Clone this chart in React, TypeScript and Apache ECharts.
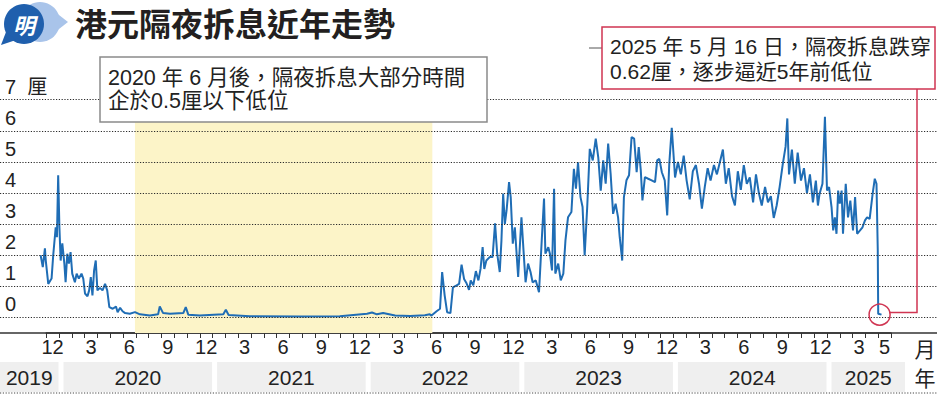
import React, { useEffect, useRef } from "react";
import * as echarts from "echarts";

// ---- data ----
const dates: string[] = [
  "2019-11-18","2019-11-23","2019-11-28","2019-11-30","2019-12-06","2019-12-14","2019-12-18","2019-12-24","2019-12-27","2019-12-30",
  "2020-01-02","2020-01-05","2020-01-09","2020-01-14","2020-01-17","2020-01-21","2020-01-25","2020-01-29","2020-02-02","2020-02-08",
  "2020-02-12","2020-02-17","2020-02-23","2020-02-27","2020-03-02","2020-03-08","2020-03-12","2020-03-16","2020-03-20","2020-03-24",
  "2020-03-28","2020-04-01","2020-04-07","2020-04-13","2020-04-19","2020-04-24","2020-04-29","2020-05-07","2020-05-15","2020-05-19",
  "2020-05-25","2020-05-31","2020-06-06","2020-06-17","2020-06-29","2020-07-11","2020-08-04","2020-08-24","2020-08-28","2020-09-05",
  "2020-09-21","2020-10-23","2020-10-29","2020-11-04","2020-12-01","2021-01-27","2021-02-02","2021-02-08","2021-03-29","2021-07-26",
  "2021-10-30","2022-01-03","2022-01-15","2022-01-27","2022-02-10","2022-03-09","2022-04-14","2022-05-19","2022-05-31","2022-06-04",
  "2022-06-16","2022-06-24","2022-06-29","2022-07-05","2022-07-11","2022-07-19","2022-07-25","2022-08-03","2022-08-09","2022-08-15",
  "2022-08-21","2022-08-27","2022-09-02","2022-09-06","2022-09-12","2022-09-18","2022-09-24","2022-09-29","2022-10-04","2022-10-08",
  "2022-10-13","2022-10-21","2022-10-28","2022-11-03","2022-11-08","2022-11-14","2022-11-18","2022-11-22","2022-11-26","2022-11-30",
  "2022-12-06","2022-12-10","2022-12-15","2022-12-20","2022-12-28","2023-01-05","2023-01-11","2023-01-15","2023-01-21","2023-01-27",
  "2023-02-01","2023-02-08","2023-02-15","2023-02-21","2023-02-26","2023-03-01","2023-03-08","2023-03-12","2023-03-17","2023-03-22",
  "2023-03-25","2023-04-01","2023-04-07","2023-04-13","2023-04-18","2023-04-24","2023-05-02","2023-05-08","2023-05-13","2023-05-18",
  "2023-05-24","2023-05-29","2023-06-03","2023-06-09","2023-06-15","2023-06-22","2023-06-29","2023-07-05","2023-07-11","2023-07-17",
  "2023-07-23","2023-07-29","2023-08-04","2023-08-10","2023-08-16","2023-08-22","2023-08-26","2023-09-01","2023-09-05","2023-09-11",
  "2023-09-17","2023-09-23","2023-09-29","2023-10-05","2023-10-10","2023-10-15","2023-10-19","2023-10-25","2023-11-02","2023-11-10",
  "2023-11-18","2023-11-23","2023-11-28","2023-12-04","2023-12-11","2023-12-17","2023-12-22","2023-12-28","2024-01-05","2024-01-12",
  "2024-01-19","2024-01-26","2024-02-02","2024-02-09","2024-02-16","2024-02-23","2024-03-01","2024-03-08","2024-03-15","2024-03-22",
  "2024-03-29","2024-04-06","2024-04-13","2024-04-20","2024-04-27","2024-05-04","2024-05-11","2024-05-19","2024-05-26","2024-06-02",
  "2024-06-09","2024-06-16","2024-06-23","2024-06-30","2024-07-08","2024-07-15","2024-07-22","2024-07-29","2024-08-06","2024-08-13",
  "2024-08-20","2024-08-27","2024-09-03","2024-09-10","2024-09-17","2024-09-24","2024-09-28","2024-10-02","2024-10-09","2024-10-16",
  "2024-10-23","2024-10-31","2024-11-07","2024-11-14","2024-11-21","2024-11-28","2024-12-05","2024-12-10","2024-12-14","2024-12-21",
  "2024-12-27","2025-01-01","2025-01-06","2025-01-12","2025-01-16","2025-01-20","2025-01-24","2025-01-28","2025-02-01","2025-02-05",
  "2025-02-08","2025-02-14","2025-02-19","2025-02-24","2025-03-02","2025-03-07","2025-03-12","2025-03-19","2025-03-25","2025-03-31",
  "2025-04-05","2025-04-11","2025-04-18","2025-04-23","2025-04-27","2025-04-30","2025-05-01","2025-05-09",
];
const rates: number[] = [
  2.0,1.62,2.22,1.83,1.08,1.25,2.0,2.9,2.58,4.57,
  2.9,1.83,2.38,1.73,1.13,2.05,1.73,2.1,1.41,1.13,
  1.41,1.25,1.41,1.25,0.77,0.68,0.87,1.3,0.71,1.51,
  1.83,0.87,0.95,0.87,1.08,0.87,0.33,0.28,0.35,0.17,
  0.31,0.2,0.14,0.12,0.17,0.1,0.06,0.1,0.35,0.14,
  0.12,0.14,0.33,0.09,0.06,0.1,0.25,0.08,0.04,0.03,
  0.04,0.12,0.16,0.1,0.14,0.06,0.05,0.07,0.1,0.06,
  0.2,0.28,1.46,0.71,0.17,0.14,0.97,1.03,1.08,1.7,
  1.24,1.1,0.89,1.19,1.03,1.49,1.19,1.56,2.26,1.56,
  1.83,1.94,1.94,3.03,2.05,1.46,2.48,3.98,3.01,3.44,
  4.35,3.87,2.37,2.9,1.3,3.22,1.94,1.13,1.73,1.46,
  1.13,1.19,0.81,2.48,3.82,2.05,2.26,2.05,1.51,4.14,
  1.41,1.73,1.19,1.41,2.48,3.22,3.39,4.78,4.14,4.99,
  3.87,3.55,1.99,3.55,5.42,5.05,5.75,5.15,4.08,5.05,
  4.3,5.59,4.62,3.33,3.66,3.22,2.58,1.83,3.87,4.41,
  4.57,5.8,5.75,4.67,5.48,4.73,3.76,4.51,4.46,4.41,
  4.35,5.05,5.1,4.67,4.41,3.28,4.94,6.1,4.5,5.0,
  4.6,5.2,4.4,3.8,4.7,4.9,4.3,3.5,4.2,4.8,
  4.4,4.9,4.6,5.0,5.4,4.3,4.8,3.9,3.6,4.7,
  4.1,4.9,4.3,4.5,3.7,4.6,4.0,3.6,4.2,3.7,
  3.9,3.2,3.6,4.2,4.9,5.5,6.4,4.6,5.4,4.3,
  5.3,4.4,4.8,4.0,4.6,3.7,4.4,3.6,3.98,4.3,
  6.45,4.08,4.19,3.55,2.8,3.22,2.69,4.08,3.66,4.08,
  2.69,4.3,3.22,3.76,2.8,3.87,2.69,2.8,2.9,3.12,
  3.22,3.17,3.98,4.46,4.3,2.15,0.12,0.09,
];

const yTicks: number[] = [0, 1, 2, 3, 4, 5, 6, 7];
const yUnit = "厘";
const monthLabelMonths: number[] = [3, 6, 9, 12];
const yearLabels: string[] = ["2019", "2020", "2021", "2022", "2023", "2024", "2025"];
const yearStartMonths: number[] = [-12, 0, 12, 24, 36, 48, 60];
const yearEndMonths: number[] = [0, 12, 24, 36, 48, 60, 66.13];
const shadedFrom = "2020-06-29";
const shadedTo = "2022-06-06";

const title = "港元隔夜拆息近年走勢";
const note1 = ["2020 年 6 月後，隔夜拆息大部分時間", "企於0.5厘以下低位"];
const note2 = ["2025 年 5 月 16 日，隔夜拆息跌穿", "0.62厘，逐步逼近5年前低位"];

// ---- helpers ----
function toM(s: string): number {
  const [y, mo, d] = s.split("-").map(Number);
  const dim = new Date(y, mo, 0).getDate();
  return (y - 2020) * 12 + (mo - 1) + (d - 1) / dim;
}

const FONT = '"Liberation Sans", "Noto Sans CJK TC", sans-serif';
const CJK = '"Noto Sans CJK TC", "Liberation Sans", sans-serif';
const RED = "#d03552";
const BLUE = "#1f6db5";
const PX_PER_MONTH = 12.8;
const JAN2020_X = 59;
const W = 937;
const H = 396;
const GRID_TOP = 60;
const GRID_BOTTOM = 63;
const Y_MIN = -0.5;
const Y_MAX = -0.5 + (H - GRID_TOP - GRID_BOTTOM) / 31.1;

export default function App() {
  const ref = useRef<HTMLDivElement>(null);
  useEffect(() => {
    if (!ref.current) return;
    const chart = echarts.init(ref.current, undefined, { renderer: "svg" });
    const lineData = dates.map((d, i) => [toM(d), rates[i]]);
    const last = lineData[lineData.length - 1];
    const xMinFull = -JAN2020_X / PX_PER_MONTH;
    const xMaxFull = (W - JAN2020_X) / PX_PER_MONTH;
    const tickMin = -1;
    const tickMax = 65;

    const option: any = {
      animation: false,
      backgroundColor: "#ffffff",
      grid: [
        { left: 0, right: 0, top: GRID_TOP, bottom: GRID_BOTTOM },
        {
          left: JAN2020_X + tickMin * PX_PER_MONTH,
          width: (tickMax - tickMin) * PX_PER_MONTH,
          top: GRID_TOP,
          bottom: GRID_BOTTOM,
        },
      ],
      xAxis: [
        {
          type: "value",
          gridIndex: 0,
          min: xMinFull,
          max: xMaxFull,
          axisLine: { show: true, onZero: false, lineStyle: { color: "#333", width: 1.5 } },
          axisTick: { show: false },
          axisLabel: { show: false },
          splitLine: { show: false },
        },
        {
          type: "value",
          gridIndex: 1,
          min: tickMin,
          max: tickMax,
          interval: 1,
          axisLine: { show: true, onZero: false, lineStyle: { color: "#333", width: 1.5 } },
          axisTick: { show: true, length: 5, lineStyle: { color: "#333", width: 1 } },
          axisLabel: {
            show: true,
            margin: 4,
            fontSize: 20,
            color: "#222",
            fontFamily: FONT,
            padding: [0, 0, 0, PX_PER_MONTH],
            formatter: (v: number) => {
              const mo = (((Math.round(v) % 12) + 12) % 12) + 1;
              if (v >= tickMax) return "";
              if (v === 64) return "5";
              if (v > 62) return "";
              return monthLabelMonths.includes(mo) ? String(mo) : "";
            },
          },
          splitLine: { show: false },
        },
      ],
      yAxis: [
        { type: "value", gridIndex: 0, min: Y_MIN, max: Y_MAX, show: false, splitLine: { show: false } },
        { type: "value", gridIndex: 1, min: Y_MIN, max: Y_MAX, show: false, splitLine: { show: false } },
      ],
      series: [
        {
          type: "line",
          xAxisIndex: 0,
          yAxisIndex: 0,
          data: [],
          z: 1,
          silent: true,
          markArea: {
            silent: true,
            itemStyle: { color: "#fcf4c8" },
            data: [[{ xAxis: toM(shadedFrom), yAxis: Y_MIN }, { xAxis: toM(shadedTo), yAxis: Y_MAX }]],
          },
        },
        {
          type: "line",
          xAxisIndex: 0,
          yAxisIndex: 0,
          data: [],
          z: 2,
          silent: true,
          markLine: {
            silent: true,
            symbol: ["none", "none"],
            lineStyle: { type: [1.2, 1.6], color: "#2a2a2a", width: 1 },
            label: {
              show: true,
              position: "insideStartTop",
              distance: [5, 3],
              fontSize: 20,
              color: "#222",
              fontFamily: FONT,
              formatter: (p: any) => (p.value === 7 ? "7  " + yUnit : String(p.value)),
            },
            data: yTicks.map((v) => ({ yAxis: v })),
          },
        },
        {
          type: "custom",
          xAxisIndex: 0,
          yAxisIndex: 0,
          clip: false,
          silent: true,
          z: 2,
          data: yearLabels.map((_, i) => [yearStartMonths[i], yearEndMonths[i], i]),
          encode: { x: [0, 1], y: 2 },
          renderItem: (params: any, api: any) => {
            const s = api.coord([api.value(0), 0])[0];
            const e = api.coord([api.value(1), 0])[0];
            const x0 = Math.max(0, s + 4.5);
            const x1 = e - 0.5;
            const idx = api.value(2);
            return {
              type: "group",
              children: [
                { type: "rect", shape: { x: x0, y: 362, width: x1 - x0, height: 30 }, style: { fill: "#efefef" } },
                {
                  type: "text",
                  x: (x0 + x1) / 2,
                  y: 377,
                  style: {
                    text: yearLabels[idx],
                    fill: "#222",
                    fontSize: 21,
                    fontFamily: FONT,
                    align: "center",
                    verticalAlign: "middle",
                  },
                },
              ],
            };
          },
        },
        {
          type: "line",
          xAxisIndex: 0,
          yAxisIndex: 0,
          data: lineData,
          z: 3,
          showSymbol: false,
          symbol: "none",
          lineStyle: { color: BLUE, width: 2 },
          markPoint: {
            silent: true,
            symbol: "circle",
            symbolSize: 21,
            itemStyle: { color: "rgba(0,0,0,0)", borderColor: RED, borderWidth: 1.5 },
            label: { show: false },
            data: [{ coord: [last[0] - 0.15, last[1]] }],
          },
        },
      ],
      graphic: [
        // logo
        { type: "circle", shape: { cx: 40, cy: 22, r: 20 }, style: { fill: "#a9c4ea" } },
        { type: "polygon", shape: { points: [[50, 8], [68, 22], [50, 36]] }, style: { fill: "#a9c4ea" } },
        { type: "circle", shape: { cx: 24, cy: 24, r: 20 }, style: { fill: "#1f5fad" } },
        { type: "polygon", shape: { points: [[6, 32], [1, 45], [16, 40]] }, style: { fill: "#1f5fad" } },
        {
          type: "text",
          x: 24,
          y: 24,
          style: {
            text: "明",
            fill: "#fff",
            fontSize: 22,
            fontWeight: "bold",
            fontStyle: "italic",
            fontFamily: CJK,
            align: "center",
            verticalAlign: "middle",
          },
        },
        {
          type: "text",
          x: 75,
          y: 22,
          style: {
            text: title,
            fill: "#231f20",
            fontSize: 32,
            fontWeight: "bold",
            fontFamily: CJK,
            verticalAlign: "middle",
          },
        },
        // note 1
        {
          type: "rect",
          z: 10,
          shape: { x: 100, y: 57, width: 387, height: 65 },
          style: { fill: "#fff", stroke: "#8a8a8a", lineWidth: 1.5 },
        },
        {
          type: "text",
          z: 11,
          x: 108,
          y: 78,
          style: { text: note1[0], fill: "#222", fontSize: 21.5, fontFamily: FONT, verticalAlign: "middle" },
        },
        {
          type: "text",
          z: 11,
          x: 108,
          y: 101,
          style: { text: note1[1], fill: "#222", fontSize: 21.5, fontFamily: FONT, verticalAlign: "middle" },
        },
        // note 2
        { type: "line", z: 10, shape: { x1: 589, y1: 48, x2: 602, y2: 48 }, style: { stroke: "#555", lineWidth: 1 } },
        {
          type: "rect",
          z: 10,
          shape: { x: 602, y: 27, width: 333, height: 62 },
          style: { fill: "#fff", stroke: RED, lineWidth: 1.5 },
        },
        {
          type: "text",
          z: 11,
          x: 610,
          y: 46,
          style: { text: note2[0], fill: "#222", fontSize: 21, fontFamily: FONT, verticalAlign: "middle" },
        },
        {
          type: "text",
          z: 11,
          x: 610,
          y: 71,
          style: { text: note2[1], fill: "#222", fontSize: 21, fontFamily: FONT, verticalAlign: "middle" },
        },
        {
          type: "polyline",
          z: 10,
          shape: { points: [[917, 89], [917, 312.5], [889, 312.5]] },
          style: { stroke: RED, lineWidth: 1.5, fill: "none" },
        },
        // right unit labels
        {
          type: "text",
          x: 925,
          y: 348,
          style: { text: "月", fill: "#222", fontSize: 21, fontFamily: CJK, align: "center", verticalAlign: "middle" },
        },
        {
          type: "text",
          x: 925,
          y: 377,
          style: { text: "年", fill: "#222", fontSize: 21, fontFamily: CJK, align: "center", verticalAlign: "middle" },
        },
        // bottom dotted rule
        {
          type: "line",
          shape: { x1: 0, y1: 393, x2: W, y2: 393 },
          style: { stroke: "#444", lineWidth: 1, lineDash: [1.2, 1.6] },
        },
      ],
    };
    chart.setOption(option);
    return () => chart.dispose();
  }, []);
  return (
    <div
      ref={ref}
      style={{ position: "absolute", left: 0, top: 0, width: W, height: H, background: "#fff" }}
    />
  );
}
